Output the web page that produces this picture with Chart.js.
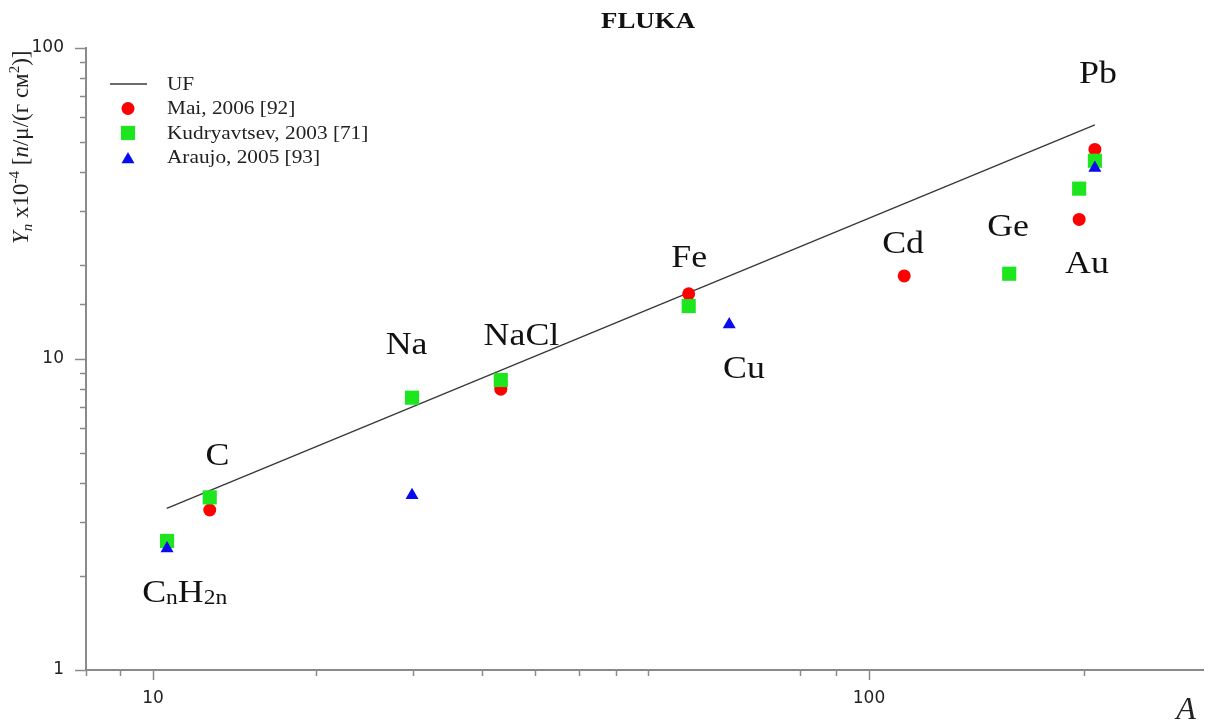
<!DOCTYPE html>
<html>
<head>
<meta charset="utf-8">
<title>FLUKA</title>
<script src="https://cdn.jsdelivr.net/npm/chart.js@4.4.0/dist/chart.umd.min.js"></script>
<style>
    html, body { margin: 0; padding: 0; background: #fff; overflow: hidden; }
    canvas { display: block; }
</style>
</head>
<body>
<canvas id="chart" width="1208" height="720"></canvas>
<script>
// --- data (A = mass number, Yn x10^-4) ---

// UF fit line (straight on log-log, so just its two ends)
const fitA = [10.45, 206.8];
const fitY = [3.31, 56.6];

// Mai, 2006 [92]
const maiA = [12, 30.6, 56, 112, 196.6, 206.8];
const maiY = [3.27, 8.0, 16.2, 18.5, 28.1, 47.2];

// Kudryavtsev, 2003 [71]
const kudA = [10.46, 12, 23, 30.6, 56, 157, 196.6, 206.8];
const kudY = [2.60, 3.59, 7.51, 8.56, 14.8, 18.8, 35.3, 43.4];

// Araujo, 2005 [93]
const arA = [10.46, 23, 63.8, 206.8];
const arY = [2.46, 3.65, 12.9, 41.1];

// element labels and where they sit (data coords, text baseline centre)
const elemNames = ['CnH2n', 'C', 'Na', 'NaCl', 'Fe', 'Cu', 'Cd', 'Ge', 'Au', 'Pb'];
const elemA = [11.07, 12.3, 22.6, 32.7, 56.1, 66.9, 111.6, 156.4, 201.6, 208.8];
const elemY = [1.65, 4.56, 10.4, 11.1, 19.8, 8.69, 21.9, 24.9, 18.9, 77.2];

// x ticks as drawn in the original (the middle run is irregular there too)
const xTickValues = [8.06, 9, 10, 16.9, 23.1, 28.8, 34.2, 39.3, 44.3, 49.1, 80, 90, 100, 200];
const xLabelValues = [10, 100];
const yLabelValues = [1, 10, 100];

const axisColor = '#8a8a8a';
const serif = '"Liberation Serif", "Times New Roman", serif';
const stretch = 1.12;  // the source image is a bit wide

function isDecade(v) {
    const l = Math.log10(v);
    return Math.abs(l - Math.round(l)) < 1e-6;
}

function toPoints(xs, ys) {
    return xs.map((x, i) => ({ x: x, y: ys[i] }));
}

// draw text horizontally stretched, anchored at x
function stretchedText(ctx, text, x, y) {
    ctx.save();
    ctx.translate(x, y);
    ctx.scale(stretch, 1);
    ctx.fillText(text, 0, 0);
    ctx.restore();
}

// a run of text pieces (sub/superscripts), starting at x
function drawRun(ctx, pieces, x, y) {
    let cx = x;
    pieces.forEach(p => {
        ctx.font = p.font;
        ctx.fillText(p.t, cx, y + (p.dy || 0));
        cx += ctx.measureText(p.t).width;
    });
    return cx;
}

function runWidth(ctx, pieces) {
    let w = 0;
    pieces.forEach(p => {
        ctx.font = p.font;
        w += ctx.measureText(p.t).width;
    });
    return w;
}

const overlayPlugin = {
    id: 'overlay',
    afterDraw(chart) {
        const ctx = chart.ctx;
        const xs = chart.scales.x;
        const ys = chart.scales.y;
        const area = chart.chartArea;

        // tick marks, outward
        ctx.save();
        ctx.strokeStyle = axisColor;
        ctx.lineWidth = 1.5;
        xs.ticks.forEach(t => {
            const px = Math.round(xs.getPixelForValue(t.value)) + 0.5;
            const len = isDecade(t.value) ? 10 : 6;
            ctx.beginPath();
            ctx.moveTo(px, area.bottom);
            ctx.lineTo(px, area.bottom + len);
            ctx.stroke();
        });
        ys.ticks.forEach(t => {
            const py = Math.round(ys.getPixelForValue(t.value)) + 0.5;
            const len = isDecade(t.value) ? 11 : 6;
            ctx.beginPath();
            ctx.moveTo(area.left, py);
            ctx.lineTo(area.left - len, py);
            ctx.stroke();
        });
        ctx.restore();

        // element labels
        ctx.save();
        ctx.fillStyle = '#111';
        ctx.textBaseline = 'alphabetic';
        elemNames.forEach((name, i) => {
            const px = xs.getPixelForValue(elemA[i]);
            const py = ys.getPixelForValue(elemY[i]);
            if (name === 'CnH2n') {
                const big = '32px ' + serif;
                const small = '21px ' + serif;
                const pieces = [
                    { t: 'C', font: big },
                    { t: 'n', font: small, dy: 2 },
                    { t: 'H', font: big },
                    { t: '2n', font: small, dy: 2 }
                ];
                const w = runWidth(ctx, pieces) * stretch;
                ctx.save();
                ctx.translate(px - w / 2, py);
                ctx.scale(stretch, 1);
                drawRun(ctx, pieces, 0, 0);
                ctx.restore();
            } else {
                ctx.font = '32px ' + serif;
                ctx.textAlign = 'center';
                stretchedText(ctx, name, px, py);
            }
        });
        ctx.restore();

        // legend, top left inside the plot
        ctx.save();
        const legX = 128;
        const legTextX = 167;
        const legY0 = 84;
        const legStep = 24.5;
        chart.data.datasets.forEach((ds, i) => {
            const y = legY0 + i * legStep;
            if (ds.showLine) {
                ctx.strokeStyle = ds.borderColor;
                ctx.lineWidth = ds.borderWidth;
                ctx.beginPath();
                ctx.moveTo(110, y);
                ctx.lineTo(147, y);
                ctx.stroke();
            } else {
                ctx.fillStyle = ds.backgroundColor;
                ctx.strokeStyle = ds.backgroundColor;
                Chart.helpers.drawPoint(ctx, {
                    pointStyle: ds.pointStyle,
                    radius: ds.pointRadius,
                    rotation: 0,
                    borderWidth: 0
                }, legX, ds.pointStyle === 'triangle' ? y + 2 : y);
            }
            ctx.fillStyle = '#222';
            ctx.font = '19px ' + serif;
            ctx.textAlign = 'left';
            ctx.textBaseline = 'middle';
            stretchedText(ctx, ds.label, legTextX, y + 1);
        });
        ctx.restore();

        // title
        ctx.save();
        ctx.fillStyle = '#111';
        ctx.font = 'bold 24px ' + serif;
        ctx.textAlign = 'center';
        ctx.textBaseline = 'alphabetic';
        stretchedText(ctx, 'FLUKA', 648, 28);
        ctx.restore();

        // x axis title
        ctx.save();
        ctx.fillStyle = '#222';
        ctx.font = 'italic 32px ' + serif;
        ctx.textAlign = 'center';
        ctx.textBaseline = 'alphabetic';
        ctx.fillText('A', 1186, 719);
        ctx.restore();

        // y axis title, rotated
        ctx.save();
        ctx.fillStyle = '#222';
        ctx.textBaseline = 'alphabetic';
        ctx.textAlign = 'left';
        ctx.translate(28, 244);
        ctx.rotate(-Math.PI / 2);
        const n23 = '23px ' + serif;
        const i23 = 'italic 23px ' + serif;
        const s15 = '15px ' + serif;
        const si15 = 'italic 15px ' + serif;
        drawRun(ctx, [
            { t: 'Y', font: i23 },
            { t: 'n', font: si15, dy: 4 },
            { t: ' x10', font: n23 },
            { t: '-4', font: s15, dy: -9 },
            { t: ' [', font: n23 },
            { t: 'n', font: i23 },
            { t: '/\u03bc/(\u0433 \u0441\u043c', font: n23 },
            { t: '2', font: s15, dy: -9 },
            { t: ')]', font: n23 }
        ], 0, 0);
        ctx.restore();
    }
};

const ctx = document.getElementById('chart');

new Chart(ctx, {
    type: 'scatter',
    data: {
        datasets: [
            {
                label: 'UF',
                data: toPoints(fitA, fitY),
                showLine: true,
                borderColor: '#3a3a3a',
                borderWidth: 1.5,
                pointRadius: 0,
                order: 3
            },
            {
                label: 'Mai, 2006 [92]',
                data: toPoints(maiA, maiY),
                pointStyle: 'circle',
                pointRadius: 6.5,
                backgroundColor: '#ff0000',
                borderWidth: 0,
                order: 2
            },
            {
                label: 'Kudryavtsev, 2003 [71]',
                data: toPoints(kudA, kudY),
                pointStyle: 'rect',
                pointRadius: 10,
                backgroundColor: '#1ee61e',
                borderWidth: 0,
                order: 1
            },
            {
                label: 'Araujo, 2005 [93]',
                data: toPoints(arA, arY),
                pointStyle: 'triangle',
                pointRadius: 7.5,
                backgroundColor: '#0a0aee',
                borderWidth: 0,
                order: 0
            }
        ]
    },
    options: {
        responsive: false,
        animation: false,
        layout: {
            autoPadding: false,
            padding: { top: 48, right: 5, left: 0, bottom: 0 }
        },
        scales: {
            x: {
                type: 'logarithmic',
                min: 8.06,
                max: 292.8,
                afterBuildTicks: scale => {
                    scale.ticks = xTickValues.map(v => ({ value: v }));
                },
                afterFit: scale => {
                    scale.height = 50;
                    scale.paddingLeft = 0;
                    scale.paddingRight = 0;
                },
                border: { display: true, color: axisColor, width: 2 },
                grid: { display: false },
                ticks: {
                    autoSkip: false,
                    maxRotation: 0,
                    padding: 10,
                    color: '#222',
                    font: { family: '"DejaVu Sans", sans-serif', size: 17 },
                    callback: function(value) {
                        return xLabelValues.some(v => Math.abs(v - value) < 1e-6) ? String(value) : '';
                    }
                }
            },
            y: {
                type: 'logarithmic',
                min: 1,
                max: 100,
                afterFit: scale => { scale.width = 86; },
                border: { display: true, color: axisColor, width: 2 },
                grid: { display: false },
                ticks: {
                    autoSkip: false,
                    padding: 14,
                    color: '#222',
                    font: { family: '"DejaVu Sans", sans-serif', size: 17 },
                    callback: function(value) {
                        return yLabelValues.some(v => Math.abs(v - value) < 1e-6) ? String(value) : '';
                    }
                }
            }
        },
        plugins: {
            legend: { display: false },
            tooltip: { enabled: false },
            title: { display: false }
        }
    },
    plugins: [overlayPlugin]
});
</script>
</body>
</html>
